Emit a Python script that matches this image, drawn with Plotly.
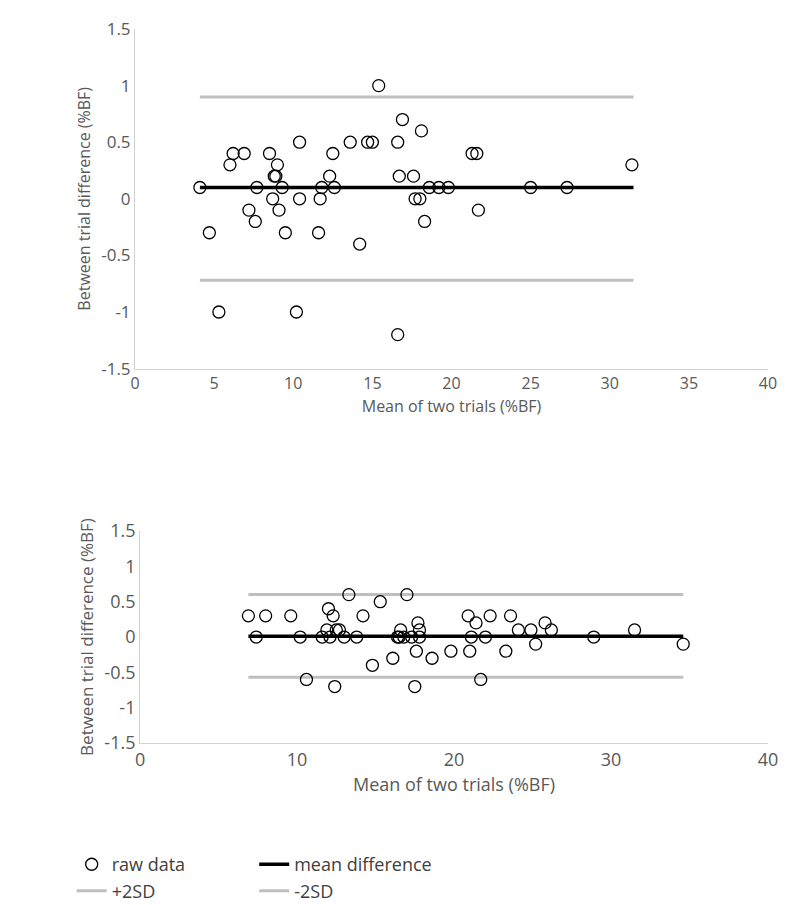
import plotly.graph_objects as go

# top panel data
top_x = [4.1, 4.7, 5.3, 6.0, 6.2, 6.9, 7.2, 7.6, 7.7, 8.5, 8.7, 8.8, 8.9, 9.0, 9.1, 9.3, 9.5,
         10.2, 10.4, 10.4, 11.6, 11.8, 11.7, 12.3, 12.5, 12.6, 13.6, 14.2, 14.7, 15.0, 15.4,
         16.6, 16.7, 16.6, 16.9, 17.6, 17.7, 18.0, 18.1, 18.3, 18.6, 19.2, 19.8, 21.3, 21.6,
         21.7, 25.0, 27.3, 31.4]
top_y = [0.1, -0.3, -1.0, 0.3, 0.4, 0.4, -0.1, -0.2, 0.1, 0.4, 0.0, 0.2, 0.2, 0.3, -0.1, 0.1, -0.3,
         -1.0, 0.5, 0.0, -0.3, 0.1, 0.0, 0.2, 0.4, 0.1, 0.5, -0.4, 0.5, 0.5, 1.0,
         0.5, 0.2, -1.2, 0.7, 0.2, 0.0, 0.0, 0.6, -0.2, 0.1, 0.1, 0.1, 0.4, 0.4,
         -0.1, 0.1, 0.1, 0.3]
top_range = [4.1, 31.5]
top_mean, top_plus, top_minus = 0.1, 0.9, -0.72

# bottom panel data
bot_x = [6.9, 7.4, 8.0, 9.6, 10.2, 10.6, 11.6, 11.9, 12.0, 12.1, 12.3, 12.4, 12.5, 12.7, 13.0,
         13.3, 13.8, 14.2, 14.8, 15.3, 16.1, 16.4, 16.5, 16.6, 16.8, 17.0, 17.3, 17.5, 17.6,
         17.7, 17.8, 17.8, 18.6, 19.8, 20.9, 21.0, 21.1, 21.4, 21.7, 22.0, 22.3, 23.3, 23.6,
         24.1, 24.9, 25.2, 25.8, 26.2, 28.9, 31.5, 34.6]
bot_y = [0.3, 0.0, 0.3, 0.3, 0.0, -0.6, 0.0, 0.1, 0.4, 0.0, 0.3, -0.7, 0.1, 0.1, 0.0,
         0.6, 0.0, 0.3, -0.4, 0.5, -0.3, 0.0, 0.0, 0.1, 0.0, 0.6, 0.0, -0.7, -0.2,
         0.2, 0.1, 0.0, -0.3, -0.2, 0.3, -0.2, 0.0, 0.2, -0.6, 0.0, 0.3, -0.2, 0.3,
         0.1, 0.1, -0.1, 0.2, 0.1, 0.0, 0.1, -0.1]
bot_range = [6.9, 34.6]
bot_mean, bot_plus, bot_minus = 0.01, 0.6, -0.57

y_ticks = [-1.5, -1, -0.5, 0, 0.5, 1, 1.5]
y_labels = ['-1.5', '-1', '-0.5', '0', '0.5', '1', '1.5']

fig = go.Figure()
font = "Open Sans, DejaVu Sans, sans-serif"

def panel(xs, ys, rng, mean, plus, minus, xa, ya):
    fig.add_trace(go.Scatter(x=rng, y=[plus, plus], mode='lines', name='+2SD',
                             line=dict(color='#bfbfbf', width=3), xaxis=xa, yaxis=ya, showlegend=False))
    fig.add_trace(go.Scatter(x=rng, y=[minus, minus], mode='lines', name='-2SD',
                             line=dict(color='#bfbfbf', width=3), xaxis=xa, yaxis=ya, showlegend=False))
    fig.add_trace(go.Scatter(x=rng, y=[mean, mean], mode='lines', name='mean difference',
                             line=dict(color='black', width=3.5), xaxis=xa, yaxis=ya, showlegend=False))
    fig.add_trace(go.Scatter(x=xs, y=ys, mode='markers', name='raw data',
                             marker=dict(symbol='circle-open', size=12, color='black', line=dict(width=1.3)),
                             xaxis=xa, yaxis=ya, showlegend=False))

panel(top_x, top_y, top_range, top_mean, top_plus, top_minus, 'x', 'y')
panel(bot_x, bot_y, bot_range, bot_mean, bot_plus, bot_minus, 'x2', 'y2')

# legend entries
fig.add_trace(go.Scatter(x=[None], y=[None], mode='markers', name='raw data',
                         marker=dict(symbol='circle-open', size=12, color='black', line=dict(width=1.3))))
fig.add_trace(go.Scatter(x=[None], y=[None], mode='lines', name='mean difference',
                         line=dict(color='black', width=3.5)))
fig.add_trace(go.Scatter(x=[None], y=[None], mode='lines', name='+2SD',
                         line=dict(color='#bfbfbf', width=3)))
fig.add_trace(go.Scatter(x=[None], y=[None], mode='lines', name='-2SD',
                         line=dict(color='#bfbfbf', width=3)))

def xax(domain, size, dtick):
    return dict(domain=domain, range=[0, 40], dtick=dtick, showgrid=False, zeroline=False,
                showline=True, linecolor='#d0d0d0', ticks='', tickfont=dict(size=size, color='#595959'),
                title=dict(text='Mean of two trials (%BF)', font=dict(size=size, color='#595959'), standoff=8))

def yax(domain, size, anchor):
    return dict(domain=domain, range=[-1.5, 1.5], tickvals=y_ticks, ticktext=y_labels,
                showgrid=False, zeroline=False,
                showline=True, linecolor='#d0d0d0', ticks='', anchor=anchor,
                tickfont=dict(size=size, color='#595959'),
                title=dict(text='Between trial difference (%BF)', font=dict(size=size - 1, color='#595959'), standoff=6))

fig.update_layout(
    width=800, height=905,
    margin=dict(l=127, r=40, t=21, b=0),
    paper_bgcolor='white', plot_bgcolor='white',
    font=dict(family=font),
    xaxis=dict(xax([0, 1], 16, 5), anchor='y'),
    yaxis=yax([0.611, 1], 17, 'x'),
    xaxis2=dict(xax([0.008, 1], 18, 10), anchor='y2'),
    yaxis2=yax([0.182, 0.425], 18, 'x2'),
    showlegend=True,
    legend=dict(orientation='h', x=-0.1, xanchor='left', y=0.028, yanchor='middle',
                font=dict(size=18, color='#404040'), traceorder='normal'),
)

fig.write_html("out.html")
